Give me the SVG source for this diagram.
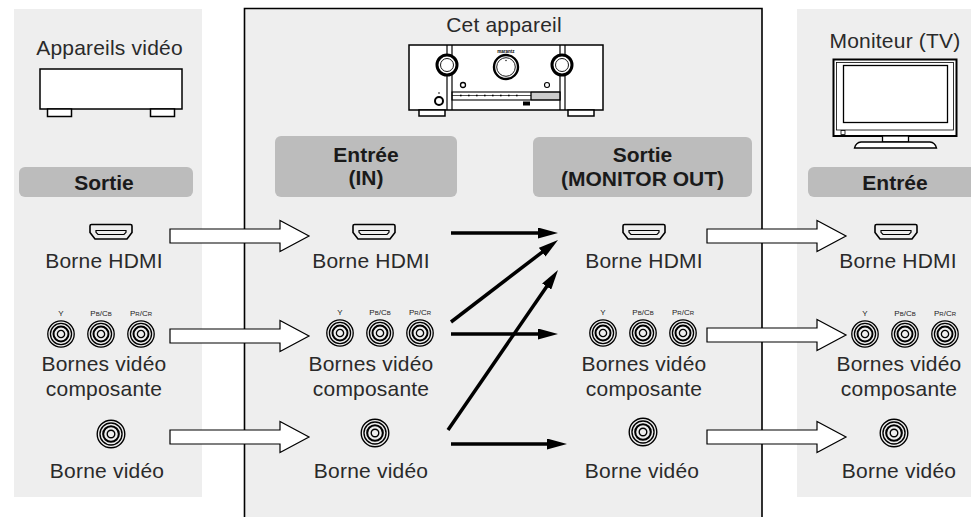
<svg xmlns="http://www.w3.org/2000/svg" xmlns:xlink="http://www.w3.org/1999/xlink" width="971" height="517" viewBox="0 0 971 517">
  <style>
    .panel { fill: #eeeeee; }
    .tag { fill: #bcbcbc; }
    .t { font-family: "Liberation Sans", Arial, sans-serif; font-size: 21px; letter-spacing: 0.2px; fill: #2a2a2a; text-anchor: middle; }
    .b { font-family: "Liberation Sans", Arial, sans-serif; font-size: 21px; font-weight: bold; fill: #1a1a1a; text-anchor: middle; }
    .lbl { font-family: "Liberation Sans", Arial, sans-serif; font-size: 8px; fill: #222; text-anchor: middle; }
    .line { fill: none; stroke: #000; }
    .dev { fill: #fff; stroke: #000; stroke-width: 1.5; }
    .fat { stroke: #000; stroke-width: 3.5; fill: none; marker-end: url(#head); }
    .hollow { fill: #fff; stroke: #000; stroke-width: 1.2; }
  </style>
  <defs>
    <marker id="head" viewBox="0 0 20 11" markerWidth="20" markerHeight="11" refX="8" refY="5.5" orient="auto" markerUnits="userSpaceOnUse">
      <path d="M0,0 L20,5.5 L0,11 Z" fill="#000"/>
    </marker>
    <path id="bigArrow" d="M0,-7 H110 V-15.5 L139,0 L110,15.5 V7 H0 Z"/>
    <g id="hdmi">
      <path d="M-19.5,-7.5 H19.5 Q21,-7.5 21,-6 V0.5 L16,7 H-16 L-21,0.5 V-6 Q-21,-7.5 -19.5,-7.5 Z" fill="none" stroke="#000" stroke-width="1.6"/>
      <path d="M-15,-1.5 H15 V0.3 L13,2.5 H-13 L-15,0.3 Z" fill="none" stroke="#000" stroke-width="1.2"/>
    </g>
    <g id="jack" fill="none" stroke="#000">
      <circle r="12" stroke-width="1.2"/>
      <circle r="9.6" stroke-width="1.2"/>
      <circle r="6.8" stroke-width="1.8"/>
      <circle r="3.3" stroke-width="1.2"/>
    </g>
    <g id="jacks3">
      <use xlink:href="#jack" transform="translate(-40,0) scale(1.1)"/>
      <use xlink:href="#jack" transform="scale(1.1)"/>
      <use xlink:href="#jack" transform="translate(40,0) scale(1.1)"/>
      <text class="lbl" x="-40" y="-18">Y</text>
      <text class="lbl" x="0" y="-18">P<tspan font-size="6">B</tspan>/C<tspan font-size="6">B</tspan></text>
      <text class="lbl" x="40" y="-18">P<tspan font-size="6">R</tspan>/C<tspan font-size="6">R</tspan></text>
    </g>
  </defs>

  <!-- background panels -->
  <rect class="panel" x="14" y="9" width="188" height="488"/>
  <path d="M244.5,517 V8.5 H762 V517" fill="#eeeeee" stroke="#000" stroke-width="1.6"/>
  <rect class="panel" x="797" y="9" width="180" height="488"/>

  <!-- source: video devices -->
  <g id="source">
    <text class="t" x="109.5" y="55">Appareils vidéo</text>
    <rect class="dev" x="40" y="69" width="142" height="40"/>
    <rect class="dev" x="47.5" y="109" width="24" height="7.5"/>
    <rect class="dev" x="150.5" y="109" width="24" height="7.5"/>
    <rect class="tag" x="19" y="167" width="174" height="30" rx="6"/>
    <text class="b" x="104" y="190">Sortie</text>
    <use xlink:href="#hdmi" x="111" y="232"/>
    <text class="t" x="104" y="268">Borne HDMI</text>
    <use xlink:href="#jacks3" x="101" y="334"/>
    <text class="t" x="104" y="371">Bornes vidéo</text>
    <text class="t" x="104" y="396">composante</text>
    <use xlink:href="#jack" transform="translate(111,434) scale(1.15)"/>
    <text class="t" x="107" y="478">Borne vidéo</text>
  </g>

  <!-- this unit: receiver -->
  <g id="receiver">
    <text class="t" x="504" y="32">Cet appareil</text>
    <rect class="dev" x="409" y="45" width="194" height="65"/>
    <g class="line" stroke-width="1.2">
      <line x1="447" y1="45" x2="447" y2="110"/>
      <line x1="452" y1="45" x2="452" y2="110"/>
      <line x1="560" y1="45" x2="560" y2="110"/>
      <line x1="565" y1="45" x2="565" y2="110"/>
    </g>
    <text x="506" y="52.5" font-family="Liberation Sans, Arial, sans-serif" font-size="4.5" font-weight="bold" text-anchor="middle" fill="#000">marantz</text>
    <circle cx="447" cy="65" r="10" fill="#fff" stroke="#000" stroke-width="3"/>
    <circle cx="447" cy="65" r="6.5" fill="none" stroke="#000" stroke-width="0.9"/>
    <circle cx="506" cy="67" r="12" fill="#fff" stroke="#000" stroke-width="2.4"/>
    <circle cx="506" cy="67" r="9.3" fill="none" stroke="#000" stroke-width="0.9"/>
    <circle cx="506" cy="60.5" r="0.7" fill="#000"/>
    <circle cx="562" cy="65" r="10" fill="#fff" stroke="#000" stroke-width="3"/>
    <circle cx="562" cy="65" r="6.5" fill="none" stroke="#000" stroke-width="0.9"/>
    <circle cx="463" cy="85" r="2.5" fill="none" stroke="#000" stroke-width="1.3"/>
    <circle cx="547" cy="85" r="2.5" fill="none" stroke="#000" stroke-width="1.1"/>
    <circle cx="439" cy="101" r="4" fill="none" stroke="#000" stroke-width="2"/>
    <circle cx="439" cy="93" r="0.8" fill="#000"/>
    <rect x="531" y="92" width="29" height="8" fill="#ccc" stroke="#000" stroke-width="0.8"/>
    <rect x="452" y="92" width="108" height="8" fill="none" stroke="#000" stroke-width="1.1"/>
    <line x1="452" y1="95.5" x2="531" y2="95.5" stroke="#000" stroke-width="0.7"/>
    <line x1="531" y1="92" x2="531" y2="100" stroke="#000" stroke-width="0.8"/>
    <g fill="#000">
      <rect x="460" y="94.7" width="1.6" height="1.6"/>
      <rect x="468" y="94.7" width="1.6" height="1.6"/>
      <rect x="476" y="94.7" width="1.6" height="1.6"/>
      <rect x="484" y="94.7" width="1.6" height="1.6"/>
      <rect x="492" y="94.7" width="1.6" height="1.6"/>
      <rect x="500" y="94.7" width="1.6" height="1.6"/>
      <rect x="508" y="94.7" width="1.6" height="1.6"/>
      <rect x="516" y="94.7" width="1.6" height="1.6"/>
      <rect x="523" y="101.5" width="7" height="4"/>
    </g>
    <rect class="dev" x="419" y="110" width="26" height="6"/>
    <rect class="dev" x="568" y="110" width="26" height="6"/>

    <rect class="tag" x="275" y="136" width="182" height="61" rx="6"/>
    <text class="b" x="366" y="162">Entrée</text>
    <text class="b" x="366" y="185">(IN)</text>
    <rect class="tag" x="533" y="137" width="219" height="60" rx="6"/>
    <text class="b" x="642.5" y="162">Sortie</text>
    <text class="b" x="642.5" y="186">(MONITOR OUT)</text>
  </g>

  <!-- receiver inputs -->
  <g id="in">
    <use xlink:href="#hdmi" x="374" y="232"/>
    <text class="t" x="371" y="268">Borne HDMI</text>
    <use xlink:href="#jacks3" x="380" y="333"/>
    <text class="t" x="371" y="371">Bornes vidéo</text>
    <text class="t" x="371" y="396">composante</text>
    <use xlink:href="#jack" transform="translate(375,433) scale(1.15)"/>
    <text class="t" x="371" y="478">Borne vidéo</text>
  </g>

  <!-- receiver outputs -->
  <g id="out">
    <use xlink:href="#hdmi" x="644" y="232"/>
    <text class="t" x="644" y="268">Borne HDMI</text>
    <use xlink:href="#jacks3" x="643" y="333"/>
    <text class="t" x="644" y="371">Bornes vidéo</text>
    <text class="t" x="644" y="396">composante</text>
    <use xlink:href="#jack" transform="translate(643,432) scale(1.15)"/>
    <text class="t" x="642" y="478">Borne vidéo</text>
  </g>

  <!-- display: monitor -->
  <g id="monitor">
    <text class="t" x="895" y="48">Moniteur (TV)</text>
    <rect x="833.5" y="59.5" width="123" height="76.5" fill="#fff" stroke="#000" stroke-width="2"/>
    <rect x="836.5" y="62.5" width="117" height="67.5" fill="none" stroke="#000" stroke-width="0.8"/>
    <rect x="843.5" y="65.5" width="104" height="57" fill="#fff" stroke="#000" stroke-width="1.3"/>
    <rect x="841" y="130.5" width="4" height="4" fill="none" stroke="#000" stroke-width="0.8"/>
    <rect x="882.5" y="136" width="26" height="6" fill="#fff" stroke="#000" stroke-width="1.3"/>
    <path d="M861,142 H930 Q935,142.5 936.5,148 H854.5 Q856,142.5 861,142 Z" fill="#fff" stroke="#000" stroke-width="1.3"/>
    <rect class="tag" x="808" y="167" width="174" height="30" rx="6"/>
    <text class="b" x="895" y="190">Entrée</text>
    <use xlink:href="#hdmi" x="896" y="232"/>
    <text class="t" x="898" y="268">Borne HDMI</text>
    <use xlink:href="#jacks3" x="905" y="334"/>
    <text class="t" x="899" y="371">Bornes vidéo</text>
    <text class="t" x="899" y="396">composante</text>
    <use xlink:href="#jack" transform="translate(894,433) scale(1.15)"/>
    <text class="t" x="899" y="478">Borne vidéo</text>
  </g>

  <!-- connectors -->
  <g id="connectors">
    <use class="hollow" xlink:href="#bigArrow" x="170" y="236"/>
    <use class="hollow" xlink:href="#bigArrow" x="170" y="336"/>
    <use class="hollow" xlink:href="#bigArrow" x="170" y="437"/>
    <use class="hollow" xlink:href="#bigArrow" x="707" y="236"/>
    <use class="hollow" xlink:href="#bigArrow" x="707" y="335"/>
    <use class="hollow" xlink:href="#bigArrow" x="707" y="437"/>
    <line class="fat" x1="451" y1="233" x2="546" y2="233"/>
    <line class="fat" x1="451" y1="322" x2="548.5" y2="247.3"/>
    <line class="fat" x1="451" y1="334" x2="546" y2="334"/>
    <line class="fat" x1="448" y1="430" x2="551.2" y2="279.9"/>
    <line class="fat" x1="451" y1="444" x2="555" y2="444"/>
  </g>
</svg>
